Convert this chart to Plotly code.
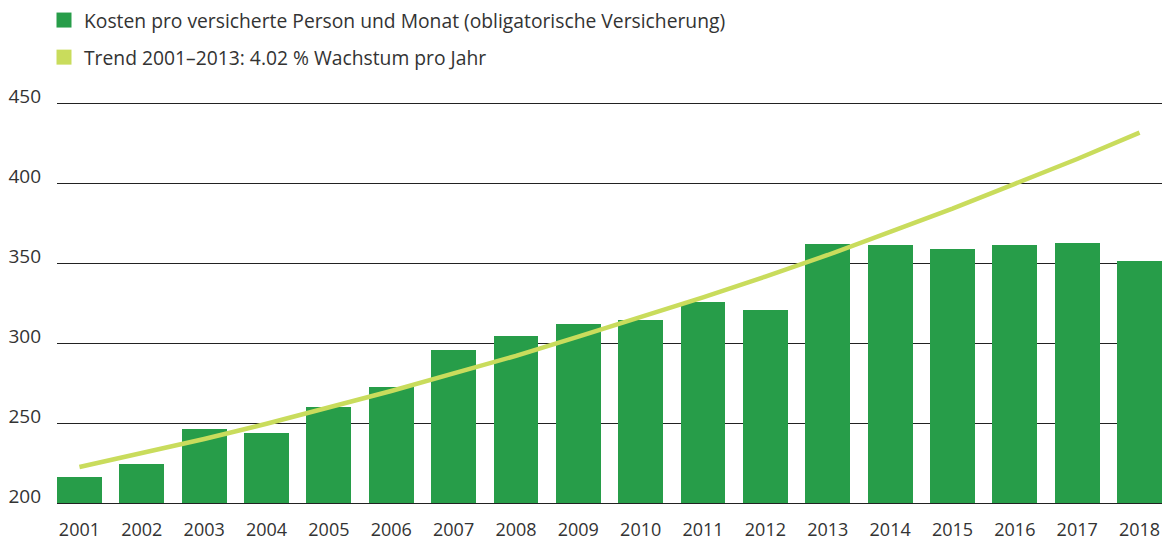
import plotly.graph_objects as go

years = list(range(2001, 2019))
kosten = [216, 224.5, 246.5, 244, 260, 272.5, 295.5, 304.5, 312, 314.5, 325.5, 320.5,
          362, 361.5, 359, 361.5, 362.5, 351.5]
trend = [222.5, 231, 240, 249.5, 259.5, 270, 281, 292, 304, 316, 328.5, 341.5,
         355, 369.5, 384, 399.5, 415, 431.5]
y_ticks = [200, 250, 300, 350, 400, 450]

name_bar = "Kosten pro versicherte Person und Monat (obligatorische Versicherung)"
name_trend = "Trend 2001–2013: 4.02 % Wachstum pro Jahr"

BAR = "#279d49"
TREND = "#c9dc5c"
TXT = "#333333"
FONT = "Open Sans"

W, H = 1163, 532  # page body has an 8px margin
PLOT_H = H - 93 - 37

fig = go.Figure()
fig.add_trace(go.Bar(x=years, y=kosten, marker=dict(color=BAR, line=dict(width=0)),
                     width=0.72, showlegend=False, name=name_bar))
fig.add_trace(go.Scatter(x=years, y=trend, mode="lines", line=dict(color=TREND, width=4.5),
                         showlegend=False, name=name_trend))
# legend entries (square swatches)
fig.add_trace(go.Scatter(x=[None], y=[None], mode="markers", name=name_bar, legendgroup="a",
                         marker=dict(symbol="square", size=15, color=BAR)))
fig.add_trace(go.Scatter(x=[None], y=[None], mode="markers", name=name_trend, legendgroup="b",
                         marker=dict(symbol="square", size=15, color=TREND)))

fig.update_layout(
    width=W, height=H,
    margin=dict(l=49, r=9, t=93, b=37, autoexpand=False),
    paper_bgcolor="white", plot_bgcolor="white",
    font=dict(family=FONT, size=19, color=TXT),
    bargap=0,
    legend=dict(xref="container", yref="paper", x=36 / W, y=1 + 100 / PLOT_H,
                xanchor="left", yanchor="top", traceorder="grouped", tracegroupgap=9,
                font=dict(size=19.3, color=TXT), bgcolor="rgba(0,0,0,0)"),
    xaxis=dict(range=[2000.64, 2018.36], tickmode="array", tickvals=years,
               ticktext=[str(y) for y in years], showgrid=False, zeroline=False,
               showline=True, linecolor="#222222", linewidth=1, ticks="",
               ticklabelstandoff=10, tickangle=0, tickfont=dict(size=18, color=TXT)),
    yaxis=dict(range=[200, 451.25], tickmode="array", tickvals=y_ticks,
               showgrid=True, gridcolor="#222222", gridwidth=1, zeroline=False,
               ticks="", ticklabelstandoff=15, ticklabelshift=-7,
               tickfont=dict(size=19, color=TXT)),
)

fig.write_html("out.html")
